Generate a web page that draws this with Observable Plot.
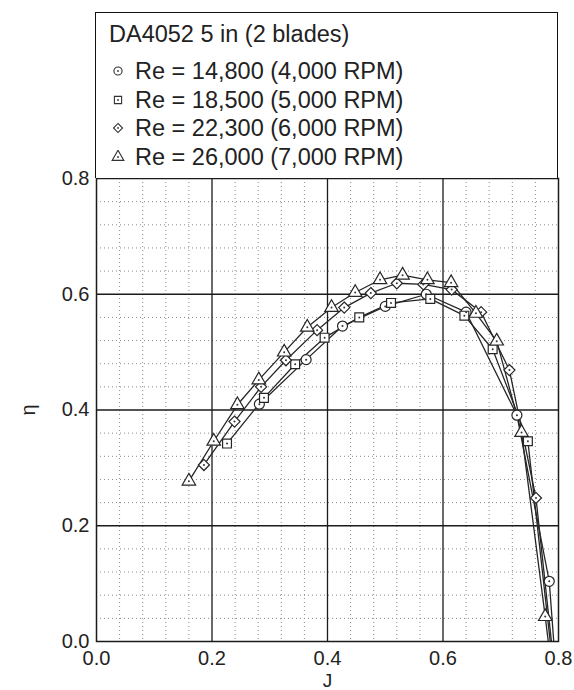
<!DOCTYPE html>
<html>
<head>
<meta charset="utf-8">
<script src="https://cdn.jsdelivr.net/npm/d3@7"></script>
<script src="https://cdn.jsdelivr.net/npm/@observablehq/plot@0.6"></script>
<style>
  html, body { margin: 0; padding: 0; background: #fff; }
  #wrap { position: relative; width: 574px; height: 690px; font-family: "Liberation Sans", Arial, sans-serif; color: #222; }
  #chart { position: absolute; left: 0; top: 0; }
  #legend { position: absolute; left: 95px; top: 12px; width: 463px; height: 166px; box-sizing: border-box;
            border: 1.5px solid #111; border-bottom: none; background: #fff; }
  #legend .title { position: absolute; left: 13px; top: 8px; font-size: 23.5px; line-height: 26px; white-space: nowrap; }
  #legend .row { position: absolute; left: 0; height: 26px; white-space: nowrap; }
  #legend .row svg { position: absolute; left: 15px; top: 6px; }
  #legend .row span { position: absolute; left: 39px; top: 0; font-size: 23.5px; line-height: 26px; }
</style>
</head>
<body>
<div id="wrap">
  <div id="chart"></div>
  <div id="legend"></div>
</div>
<script>
// ---- data ----
const chartTitle = "DA4052 5 in (2 blades)";
const seriesNames = [
  "Re = 14,800 (4,000 RPM)",
  "Re = 18,500 (5,000 RPM)",
  "Re = 22,300 (6,000 RPM)",
  "Re = 26,000 (7,000 RPM)"
];
const seriesSymbols = ["circle", "square", "diamond2", "triangle"];

const j4000   = [0.282, 0.363, 0.426, 0.500, 0.571, 0.640, 0.728, 0.784, 0.794];
const eta4000 = [0.410, 0.487, 0.545, 0.579, 0.600, 0.569, 0.391, 0.104, -0.03];

const j5000   = [0.226, 0.290, 0.344, 0.395, 0.455, 0.510, 0.578, 0.637, 0.686, 0.747, 0.789];
const eta5000 = [0.342, 0.421, 0.479, 0.525, 0.560, 0.585, 0.592, 0.563, 0.505, 0.346, -0.03];

const j6000   = [0.186, 0.239, 0.285, 0.328, 0.382, 0.429, 0.475, 0.520, 0.566, 0.615, 0.666, 0.715, 0.761, 0.791];
const eta6000 = [0.305, 0.380, 0.440, 0.486, 0.538, 0.577, 0.602, 0.619, 0.617, 0.608, 0.569, 0.469, 0.248, -0.03];

const j7000   = [0.160, 0.203, 0.244, 0.281, 0.325, 0.365, 0.407, 0.448, 0.491, 0.530, 0.573, 0.614, 0.657, 0.693, 0.736, 0.777, 0.786];
const eta7000 = [0.277, 0.346, 0.409, 0.452, 0.500, 0.543, 0.577, 0.603, 0.625, 0.633, 0.625, 0.620, 0.567, 0.519, 0.361, 0.043, -0.03];

const xTicks = [0, 0.2, 0.4, 0.6, 0.8];
const yTicks = [0, 0.2, 0.4, 0.6, 0.8];
const xLabel = "J";
const yLabel = "η";

// ---- build table ----
const seriesJ = [j4000, j5000, j6000, j7000];
const seriesEta = [eta4000, eta5000, eta6000, eta7000];
const rows = [];
seriesNames.forEach((name, i) => {
  seriesJ[i].forEach((j, k) => rows.push({series: name, J: j, eta: seriesEta[i][k]}));
});
const visible = d => d.eta >= 0;

const minorX = d3.range(1, 20).filter(i => i % 5 !== 0).map(i => i * 0.04);
const minorY = minorX;
const majorX = xTicks.slice(1, -1);
const majorY = yTicks.slice(1, -1);

const ink = "#1b1b1b";

const plot = Plot.plot({
  width: 574,
  height: 690,
  marginTop: 178,
  marginBottom: 49,
  marginLeft: 96,
  marginRight: 16,
  style: {fontFamily: "'Liberation Sans', Arial, sans-serif", fontSize: "20px", color: "#222", background: "white", overflow: "visible"},
  x: {domain: [0, 0.8]},
  y: {domain: [0, 0.8]},
  symbol: {domain: seriesNames, range: seriesSymbols},
  marks: [
    Plot.gridX(minorX, {stroke: "#8a8a8a", strokeOpacity: 1, strokeWidth: 1, strokeDasharray: "1,3"}),
    Plot.gridY(minorY, {stroke: "#8a8a8a", strokeOpacity: 1, strokeWidth: 1, strokeDasharray: "1,3"}),
    Plot.gridX(majorX, {stroke: ink, strokeOpacity: 1, strokeWidth: 1.3}),
    Plot.gridY(majorY, {stroke: ink, strokeOpacity: 1, strokeWidth: 1.3}),
    Plot.line(rows, {x: "J", y: "eta", z: "series", stroke: "#262626", strokeWidth: 1.3, clip: true}),
    Plot.dot(rows, {filter: visible, x: "J", y: "eta", symbol: "series", r: 5, fill: "white", stroke: "#262626", strokeWidth: 1.2}),
    Plot.dot(rows, {filter: visible, x: "J", y: "eta", r: 1, fill: "#333", stroke: null}),
    Plot.frame({stroke: ink, strokeWidth: 1.5}),
    Plot.axisX({ticks: xTicks, tickFormat: d3.format(".1f"), tickSize: 0, tickPadding: 9,
                label: null}),
    Plot.axisX({ticks: [], tickSize: 0, label: xLabel, labelAnchor: "center", labelOffset: 45,
                labelArrow: "none", fontSize: 19}),
    Plot.axisY({ticks: yTicks, tickFormat: d3.format(".1f"), tickSize: 0, tickPadding: 7,
                label: yLabel, labelAnchor: "center", labelOffset: 76, labelArrow: "none"})
  ]
});
document.getElementById("chart").appendChild(plot);

// ---- legend (HTML above the SVG plot area) ----
const legend = d3.select("#legend");
legend.append("div").attr("class", "title").text(chartTitle);
const d3sym = {circle: d3.symbolCircle, square: d3.symbolSquare, diamond2: d3.symbolDiamond2, triangle: d3.symbolTriangle};
const rowTops = [45, 74, 102, 131];
seriesNames.forEach((name, i) => {
  const row = legend.append("div").attr("class", "row").style("top", rowTops[i] + "px");
  const svg = row.append("svg").attr("width", 14).attr("height", 14);
  svg.append("path")
    .attr("transform", "translate(7,7)")
    .attr("d", d3.symbol(d3sym[seriesSymbols[i]], seriesSymbols[i] === "triangle" ? 60 : 52)())
    .attr("fill", "white").attr("stroke", "#333").attr("stroke-width", 1.1);
  svg.append("circle").attr("cx", 7).attr("cy", 7).attr("r", 0.9).attr("fill", "#333");
  row.append("span").text(name);
});
</script>
</body>
</html>
